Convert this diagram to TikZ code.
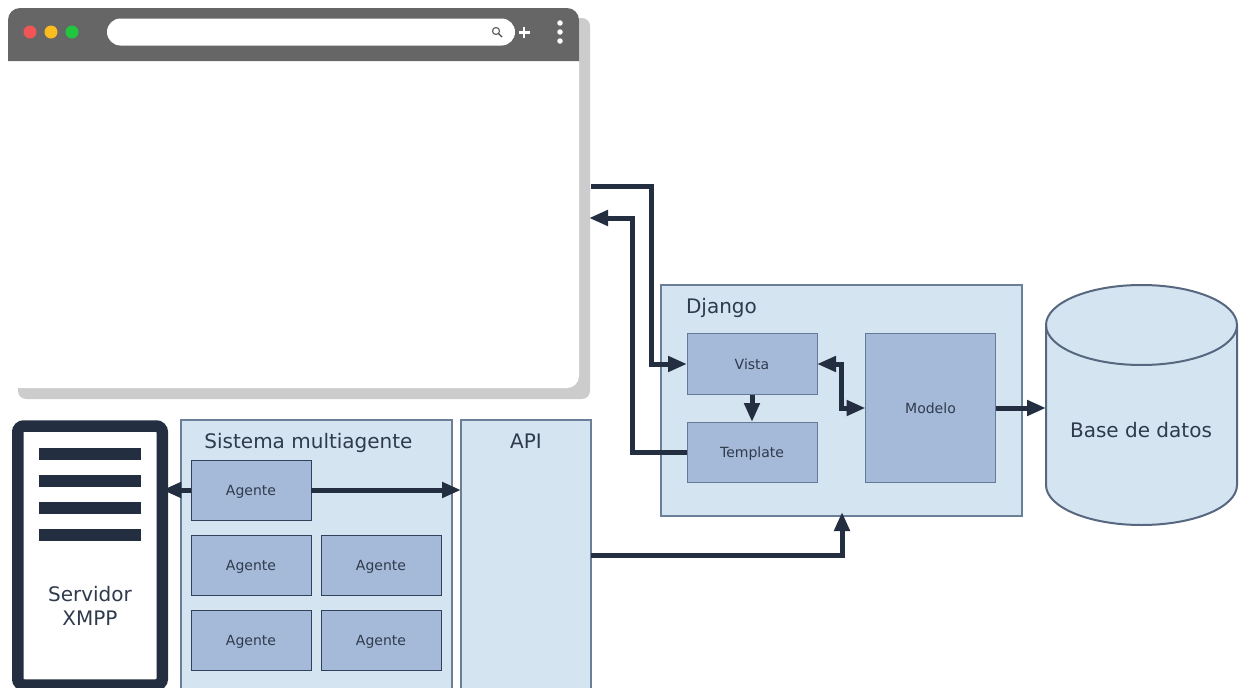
\documentclass[tikz,border=0pt]{standalone}
\usepackage{fontspec}
\setmainfont{DejaVu Sans}
\usetikzlibrary{arrows.meta}
\definecolor{ink}{HTML}{232F41}
\definecolor{txt}{HTML}{2F3B4D}
\definecolor{panelfill}{HTML}{D5E4F1}
\definecolor{panelline}{HTML}{6C7F98}
\definecolor{innerfill}{HTML}{A4BAD8}
\definecolor{innerline}{HTML}{65799A}
\definecolor{agentline}{HTML}{33425C}
\definecolor{cylline}{HTML}{56677F}
\definecolor{dotred}{HTML}{F25556}
\definecolor{dotyellow}{HTML}{FBBC20}
\definecolor{dotgreen}{HTML}{22C53E}
\tikzset{
  x=1pt,y=-1pt,
  every node/.style={inner sep=0pt,outer sep=0pt,text=txt},
  panel/.style={draw=panelline,fill=panelfill,line width=2pt},
  inner box/.style={draw=innerline,fill=innerfill,line width=1pt,font=\fontsize{14}{16}\selectfont,text height=10pt,text depth=0pt},
  agent/.style={inner box,draw=agentline,minimum width=120pt,minimum height=60pt},
  title/.style={font=\fontsize{20}{24}\selectfont},
  conn/.style={draw=ink,line width=5pt,-{Triangle[length=19pt,width=15pt]}},
  connboth/.style={conn,{Triangle[length=19pt,width=15pt]}-{Triangle[length=19pt,width=15pt]}},
  bar/.style={fill=ink,minimum width=102pt,minimum height=12pt},
  dot/.style={circle,minimum size=13pt},
  menudot/.style={circle,fill=white,minimum size=5.5pt},
}
\begin{document}
\begin{tikzpicture}
\useasboundingbox (0,0) rectangle (1240,688);
% browser
\node[fill=black!20,rounded corners=8pt,minimum width=572pt,minimum height=381pt] (shadow) at (304,208.5) {};
\node[fill=white,rounded corners=12pt,minimum width=571pt,minimum height=380pt] (browser) at (293.5,198) {};
\fill[fill=black!60] (8,61) -- (8,20) arc[start angle=180,end angle=270,radius=12] -- (567,8) arc[start angle=270,end angle=360,radius=12] -- (579,61) -- cycle;
\node[dot,fill=dotred] (d1) at (30,32) {};
\node[dot,fill=dotyellow] (d2) at (51,32) {};
\node[dot,fill=dotgreen] (d3) at (72,32) {};
\node[fill=white,rounded corners=13.5pt,minimum width=408pt,minimum height=27pt] (search) at (311,32) {};
\draw[black!60,line width=1.2pt] (496,31) circle[radius=3.5];
\draw[black!70,line width=1.4pt] (498.5,33.5) -- (502,37);
\fill[white] (518.5,31) rectangle (529.5,33.5);
\fill[white] (522.8,26.5) rectangle (525.2,38);
\node[menudot] (m1) at (560,23) {};
\node[menudot] (m2) at (560,32) {};
\node[menudot] (m3) at (560,41) {};
% server
\node[draw=ink,fill=white,line width=11.5pt,rounded corners=6pt,minimum width=144.5pt,minimum height=259pt] (server) at (90,555.5) {};
\node[bar] (b1) at (90,454) {};
\node[bar] (b2) at (90,481) {};
\node[bar] (b3) at (90,508) {};
\node[bar] (b4) at (90,535) {};
\node[title,align=center] (servertext) at (90,606) {Servidor\\XMPP};
% system + api
\node[panel,minimum width=271pt,minimum height=290pt] (sistema) at (316.5,565) {};
\node[title] (sistematext) at (308.5,443) {Sistema multiagente};
\node[panel,minimum width=130pt,minimum height=290pt] (api) at (526,565) {};
\node[title] (apitext) at (526,441) {API};
\node[agent] (a1) at (251,490) {Agente};
\node[agent] (a2) at (251,565) {Agente};
\node[agent] (a3) at (381,565) {Agente};
\node[agent] (a4) at (251,640) {Agente};
\node[agent] (a5) at (381,640) {Agente};
% django
\node[panel,minimum width=361pt,minimum height=231pt] (django) at (841.5,400) {};
\node[title] (djangotext) at (721.5,308) {Django};
\node[inner box,minimum width=130pt,minimum height=61pt] (vista) at (752,364) {Vista};
\node[inner box,minimum width=130pt,minimum height=60pt] (template) at (752,452) {Template};
\node[inner box,minimum width=130pt,minimum height=149pt] (modelo) at (930.5,408) {Modelo};
% database
\node[minimum width=191pt,minimum height=240pt] (db) at (1141.5,405) {};
\draw[fill=panelfill,draw=cylline,line width=2pt] (db.north west) ++(0,40) arc[x radius=95.5,y radius=40,start angle=180,end angle=360] -- ++(0,160) arc[x radius=95.5,y radius=40,start angle=0,end angle=180] -- cycle;
\draw[draw=cylline,line width=2pt] (db.north west) ++(0,40) arc[x radius=95.5,y radius=40,start angle=180,end angle=0];
\node[title] (dbtext) at (1141,430) {Base de datos};
% free ends
\coordinate (bout) at (591,186);
\coordinate (bin) at (589,218);
% connectors
\draw[conn] (bout) -| (651.5,364) -- (vista.west);
\draw[conn] (template.west) -| (632,218) -- (bin);
\draw[conn] (vista.south) -- (template.north);
\draw[connboth] (vista.east) -| (841,408) -- (modelo.west);
\draw[conn] (modelo.east) -- (modelo.east -| db.west);
\draw[conn] (a1.east) -- (a1.east -| api.west);
\draw[conn] (a1.west) -- (a1.west -| server.east);
\coordinate (djin) at (842,512);
\draw[conn] (api.east |- 0,555) -| (djin);
\end{tikzpicture}
\end{document}
